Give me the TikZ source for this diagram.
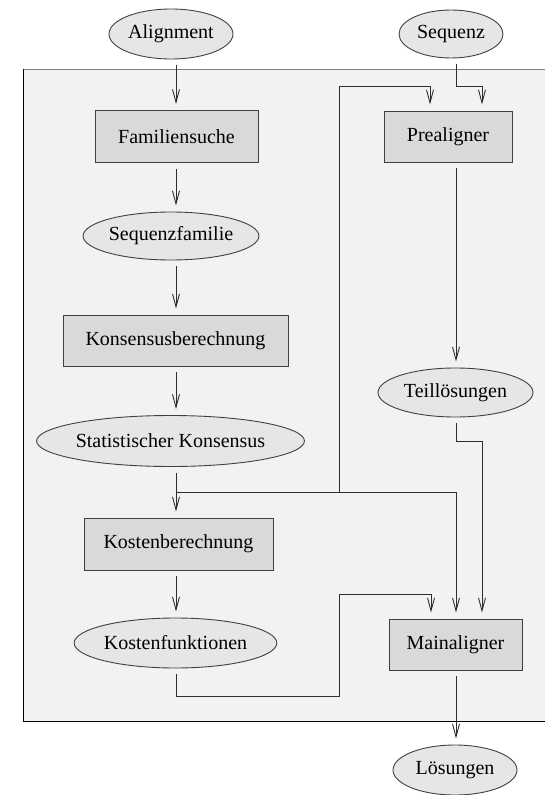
\documentclass[tikz,border=0pt]{standalone}
\usepackage{fontspec}
\setmainfont{Liberation Serif}
\usetikzlibrary{shapes.geometric,arrows.meta}

\definecolor{panel}{HTML}{F2F2F2}
\definecolor{boxfill}{HTML}{D9D9D9}
\definecolor{ovalfill}{HTML}{E6E6E6}
\definecolor{edge}{HTML}{404040}
\definecolor{wire}{HTML}{2E2E2E}

\tikzset{
  every node/.style={font=\fontsize{20}{24}\selectfont, inner sep=0pt},
  stepbox/.style={rectangle, draw=edge, fill=boxfill, line width=0.9pt},
  dataoval/.style={ellipse, draw=edge, fill=ovalfill, line width=0.9pt},
  wireline/.style={draw=wire, line width=0.9pt},
  flow/.style={wireline, -{Straight Barb[length=13pt,width=7pt,line width=0.9pt]},
               shorten >=6pt},
  lead/.style={shorten <=6pt},
}

\begin{document}
\begin{tikzpicture}[x=1pt, y=-1pt]
  \useasboundingbox (0,0) rectangle (545,795);

  % grey working area (runs past the right edge)
  \fill[panel] (23,69) rectangle (560,721);
  \draw[gray, line width=1pt] (23,69) -- (560,69);
  \draw[black, line width=1pt] (23,69) -- (23,721) -- (560,721);

  % column axes of the connectors
  \coordinate (L) at (176,0);
  \coordinate (R) at (456,0);

  % left column
  \node[dataoval, minimum width=124pt, minimum height=50pt] (align) at (171,34) {Alignment};
  \node[stepbox, minimum width=163pt, minimum height=52pt] (fam) at (176.5,136.5) {Familiensuche};
  \node[dataoval, minimum width=164pt, minimum height=48pt] (sfam) at (171,236) {Sequenzfamilie};
  \node[stepbox, minimum width=225pt, minimum height=51pt] (kons) at (175.5,340.5) {Konsensusberechnung};
  \node[dataoval, minimum width=256pt, minimum height=51pt] (stat) at (170.5,441) {Statistischer Konsensus};
  \node[stepbox, minimum width=189pt, minimum height=52pt] (kb) at (178.5,544) {Kostenberechnung};
  \node[dataoval, minimum width=196pt, minimum height=50pt] (kf) at (175.5,643) {Kostenfunktionen};

  % right column
  \node[dataoval, minimum width=104pt, minimum height=48pt] (seq) at (451,34) {Sequenz};
  \node[stepbox, minimum width=128pt, minimum height=51pt] (pre) at (448,136.5) {Prealigner};
  \node[dataoval, minimum width=155pt, minimum height=49pt] (teil) at (455.5,392.5) {Teillösungen};
  \node[stepbox, minimum width=133pt, minimum height=51pt] (main) at (455.5,644.5) {Mainaligner};
  \node[dataoval, minimum width=124pt, minimum height=50pt] (loes) at (455,770) {Lösungen};

  % bend points of the routed connectors
  \coordinate (seqbend)  at (456,86);
  \coordinate (prein1)   at (430,86);
  \coordinate (prein2)   at (482,86);
  \coordinate (split)    at (176,492);
  \coordinate (riser)    at (339,492);
  \coordinate (teilbend) at (456,441);
  \coordinate (teilin)   at (482,441);
  \coordinate (kfbend)   at (176,696);
  \coordinate (kfrise)   at (339,696);
  \coordinate (kftop)    at (339,594);
  \coordinate (kfin)     at (431,594);

  % left column, straight down
  \draw[flow, lead] (align.south -| L) -- (fam.north -| L);
  \draw[flow, lead] (fam.south -| L) -- (sfam.north -| L);
  \draw[flow, lead] (sfam.south -| L) -- (kons.north -| L);
  \draw[flow, lead] (kons.south -| L) -- (stat.north -| L);
  \draw[flow, lead] (stat.south -| L) -- (kb.north -| L);
  \draw[flow, lead] (kb.south -| L) -- (kf.north -| L);

  % consensus feeds prealigner and mainaligner
  \draw[flow] (split) -- (teilbend |- split) -- (main.north -| R);
  \draw[flow] (riser) -- (riser |- seqbend) -- (prein1) -- (pre.north -| prein1);

  % sequence into prealigner
  \draw[flow, lead] (seq.south -| R) -- (seqbend) -- (prein2) -- (pre.north -| prein2);

  % prealigner to partial solutions to mainaligner
  \draw[flow, lead] (pre.south -| R) -- (teil.north -| R);
  \draw[flow, lead] (teil.south -| R) -- (teilbend) -- (teilin) -- (main.north -| teilin);

  % cost functions into mainaligner
  \draw[flow, lead] (kf.south -| L) -- (kfbend) -- (kfrise) -- (kftop) -- (kfin) -- (main.north -| kfin);

  % result
  \draw[flow, lead] (main.south -| R) -- (loes.north -| R);
\end{tikzpicture}
\end{document}
